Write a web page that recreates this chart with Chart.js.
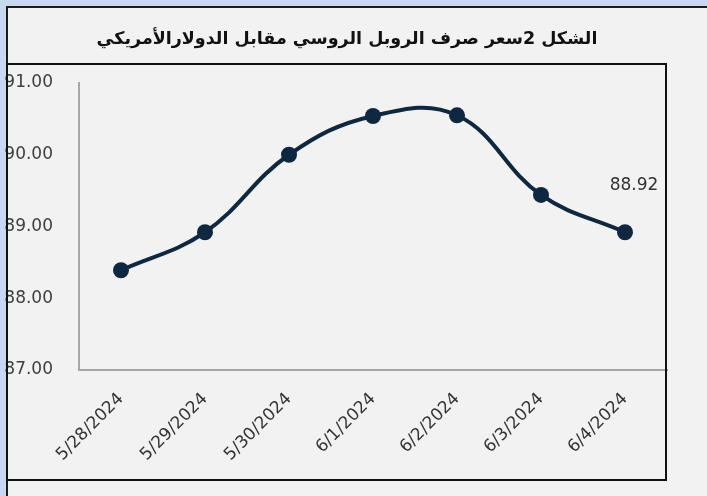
<!DOCTYPE html>
<html><head><meta charset="utf-8">
<script src="https://cdn.jsdelivr.net/npm/chart.js@4.4.1/dist/chart.umd.min.js"></script>
<style>
html,body{margin:0;padding:0;width:707px;height:496px;overflow:hidden;background:#c6d9f1;}
#outer{position:absolute;left:6px;top:6px;width:720px;height:500px;background:#f2f2f2;border-top:2px solid #1b1b1b;border-left:2px solid #1b1b1b;}
#cv{position:absolute;left:0;top:0;}
#box{position:absolute;left:6px;top:63px;width:657px;height:414px;border:2px solid #111;pointer-events:none;}
#title{position:absolute;left:0;top:28px;width:694px;text-align:center;font:bold 17.5px "DejaVu Sans";color:#111;direction:rtl;}
</style></head>
<body>
<div id="outer"></div>
<canvas id="cv" width="707" height="496"></canvas>
<div id="box"></div>
<div id="title">الشكل 2سعر صرف الروبل الروسي مقابل الدولارالأمريكي</div>
<script>
const categories = ['5/28/2024','5/29/2024','5/30/2024','6/1/2024','6/2/2024','6/3/2024','6/4/2024'];
const rubleValues = [88.39, 88.92, 90.00, 90.54, 90.55, 89.44, 88.92];
const yTickValues = [87, 88, 89, 90, 91];
const lastLabel = '88.92';

const lineColor = '#0E2841';
const tickFont = {family:'DejaVu Sans', size:17};

const lastLabelPlugin = {
  id:'lastLabel',
  afterDatasetsDraw(chart){
    const meta = chart.getDatasetMeta(0);
    const pt = meta.data[meta.data.length-1];
    const ctx = chart.ctx;
    ctx.save();
    ctx.font = '17px "DejaVu Sans"';
    ctx.fillStyle = '#333333';
    ctx.textAlign = 'center';
    ctx.textBaseline = 'middle';
    ctx.fillText(lastLabel, pt.x + 9, pt.y - 47);
    ctx.restore();
  }
};

new Chart(document.getElementById('cv'), {
  type:'line',
  data:{
    labels:categories,
    datasets:[{
      data:rubleValues,
      borderColor:lineColor,
      backgroundColor:lineColor,
      pointBackgroundColor:lineColor,
      pointBorderColor:lineColor,
      borderWidth:4,
      pointRadius:8,
      pointBorderWidth:0,
      tension:0.4,
      fill:false
    }]
  },
  options:{
    responsive:false,
    animation:false,
    devicePixelRatio:1,
    layout:{padding:{left:0,right:40,top:83,bottom:0}},
    plugins:{legend:{display:false},tooltip:{enabled:false},title:{display:false}},
    scales:{
      x:{
        offset:true,
        grid:{display:true,drawOnChartArea:false,drawTicks:false},
        border:{display:true,color:'#a6a6a6',width:2},
        ticks:{minRotation:45,maxRotation:45,autoSkip:false,padding:19,font:tickFont,color:'#333333'},
        afterFit(s){s.height=126;}
      },
      y:{
        min:87,max:91,
        afterBuildTicks(s){s.ticks = yTickValues.map(v=>({value:v}));},
        grid:{display:true,drawOnChartArea:false,drawTicks:false},
        border:{display:true,color:'#a6a6a6',width:2},
        ticks:{padding:26,font:tickFont,color:'#404040',callback:v=>Number(v).toFixed(2)},
        afterFit(s){s.width=79;}
      }
    }
  },
  plugins:[lastLabelPlugin]
});
</script>
</body></html>
